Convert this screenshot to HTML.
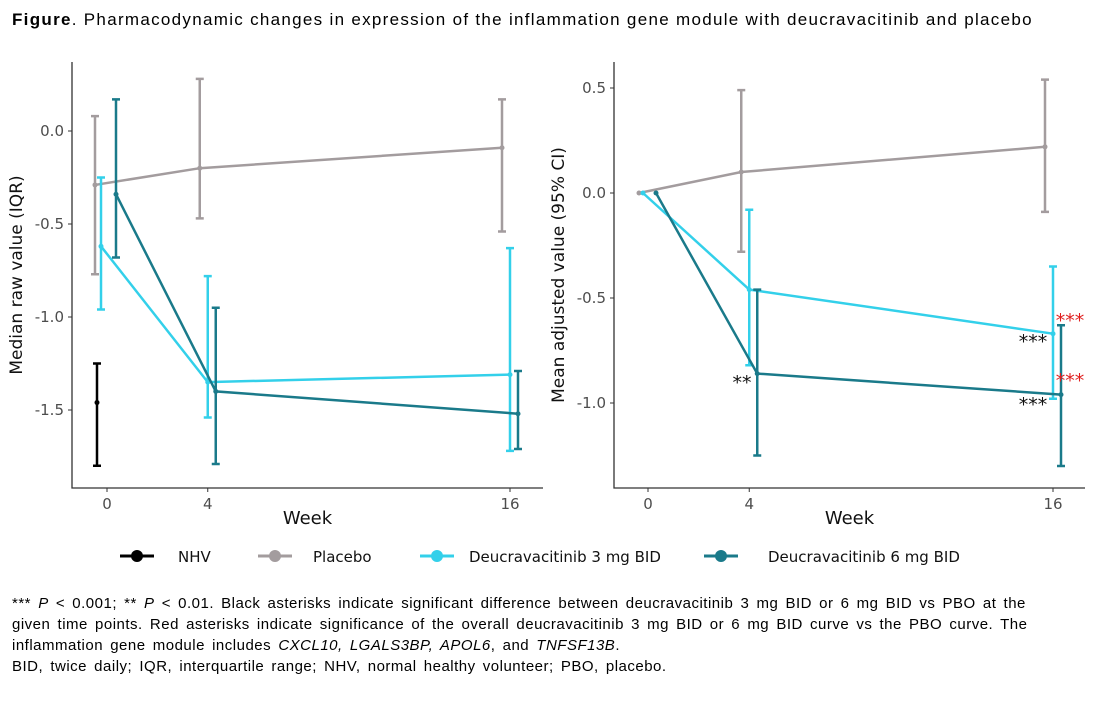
<!DOCTYPE html>
<html><head><meta charset="utf-8">
<style>
body{margin:0;background:#fff;width:1099px;height:707px;overflow:hidden;font-family:"Liberation Sans",sans-serif;}
#title{position:absolute;left:12px;top:10px;font-size:17px;color:#000;letter-spacing:1.3px;white-space:nowrap;}
#foot{position:absolute;left:12px;top:593px;font-size:15px;line-height:21px;color:#000;white-space:nowrap;letter-spacing:0.5px;word-spacing:2.5px;}
svg{position:absolute;left:0;top:0;}
</style></head><body>
<div id="title"><b>Figure</b>. Pharmacodynamic changes in expression of the inflammation gene module with deucravacitinib and placebo</div>
<svg id="chart" width="1099" height="590"></svg>
<div id="foot">*** <i>P</i> &lt; 0.001; ** <i>P</i> &lt; 0.01. Black asterisks indicate significant difference between deucravacitinib 3 mg BID or 6 mg BID vs PBO at the<br>given time points. Red asterisks indicate significance of the overall deucravacitinib 3 mg BID or 6 mg BID curve vs the PBO curve. The<br>inflammation gene module includes <i>CXCL10, LGALS3BP, APOL6</i>, and <i>TNFSF13B</i>.<br>BID, twice daily; IQR, interquartile range; NHV, normal healthy volunteer; PBO, placebo.</div>
<script>
const weeks=[0,4,16];
const seriesNames=["Placebo","Deucravacitinib 3 mg BID","Deucravacitinib 6 mg BID"];
const seriesColors=["#a39c9e","#33d0ea","#1a7a8a"];
// Left panel: median (IQR)
const leftMed=[[-0.29,-0.20,-0.09],[-0.62,-1.35,-1.31],[-0.34,-1.40,-1.52]];
const leftLo=[[-0.77,-0.47,-0.54],[-0.96,-1.54,-1.72],[-0.68,-1.79,-1.71]];
const leftHi=[[0.08,0.28,0.17],[-0.25,-0.78,-0.63],[0.17,-0.95,-1.29]];
const nhvMed=[-1.46];const nhvLo=[-1.80];const nhvHi=[-1.25];
const leftTicks=[0.0,-0.5,-1.0,-1.5];
// Right panel: mean (95% CI)
const rightMean=[[0,0.10,0.22],[0,-0.46,-0.67],[0,-0.86,-0.96]];
const rightLo=[[null,-0.28,-0.09],[null,-0.82,-0.98],[null,-1.25,-1.30]];
const rightHi=[[null,0.49,0.54],[null,-0.08,-0.35],[null,-0.46,-0.63]];
const rightTicks=[0.5,0.0,-0.5,-1.0];
const xTicks=[0,4,16];

const svg=document.getElementById('chart');
const NS='http://www.w3.org/2000/svg';
function el(t,a,p){const e=document.createElementNS(NS,t);for(const k in a)e.setAttribute(k,a[k]);(p||svg).appendChild(e);return e;}
function txt(s,a,p){const e=el('text',a,p);e.textContent=s;return e;}
const dodge=[-8,0,8];

function panel(cfg){
  const g=el('g',{});
  
  
  const xs=w=>cfg.x0+(w)*(cfg.x16-cfg.x0)/16;
  const ys=v=>cfg.y0+(v-cfg.v0)*(cfg.y1-cfg.y0)/(cfg.v1-cfg.v0);
  const ax=el('path',{d:`M${cfg.left},${cfg.top}V${cfg.bottom}H${cfg.right}`,stroke:'#333',fill:'none','stroke-width':1.3},g);
  
  cfg.yt.forEach(v=>{
    el('line',{x1:cfg.left-4,x2:cfg.left,y1:ys(v),y2:ys(v),stroke:'#333'},g);
    const t=txt(v.toFixed(1),{x:cfg.left-8,y:ys(v)+5,'text-anchor':'end','font-size':15,fill:'#4d4d4d','font-family':'DejaVu Sans, sans-serif'},g);
    
  });
  xTicks.forEach(w=>{
    el('line',{x1:xs(w),x2:xs(w),y1:cfg.bottom,y2:cfg.bottom+4,stroke:'#333'},g);
    const t=txt(String(w),{x:xs(w),y:cfg.bottom+21,'text-anchor':'middle','font-size':15,fill:'#4d4d4d','font-family':'DejaVu Sans, sans-serif'},g);
    
  });
  const xt=txt('Week',{x:(cfg.left+cfg.right)/2,y:cfg.bottom+36,'text-anchor':'middle','font-size':18,fill:'#111','font-family':'DejaVu Sans, sans-serif'},g);
  
  const cy=(cfg.top+cfg.bottom)/2;
  const yt=txt(cfg.ytitle,{x:cfg.left-50,y:cy,transform:`rotate(-90 ${cfg.left-50} ${cy})`,'text-anchor':'middle','font-size':17,fill:'#111','font-family':'DejaVu Sans, sans-serif'},g);
  
  function errbar(x,lo,hi,c){
    if(lo==null)return;
    const b=el('path',{d:`M${x},${ys(lo)}V${ys(hi)}M${x-4},${ys(lo)}H${x+4}M${x-4},${ys(hi)}H${x+4}`,stroke:c,'stroke-width':2.5,fill:'none'},g);
    
  }
  cfg.extra && cfg.extra(g,xs,ys,errbar);
  cfg.mid.forEach((s,i)=>{
    const pts=weeks.map((w,j)=>[xs(w)+dodge[i]+(j==0?cfg.d0[i]:0),ys(s[j])]);
    const l=el('polyline',{points:pts.map(p=>p.join(',')).join(' '),stroke:seriesColors[i],'stroke-width':2.5,fill:'none'},g);
    
    
    pts.forEach((p,j)=>{
      errbar(p[0],cfg.lo[i][j],cfg.hi[i][j],seriesColors[i]);
      const c=el('circle',{cx:p[0],cy:p[1],r:2.5,fill:seriesColors[i]},g);
      
    });
  });
  return {xs,ys,g};
}

panel({name:'left-panel',left:72,right:543,top:62,bottom:488,x0:107,x16:510,v0:0,y0:131,v1:-1.5,y1:410,
  yt:leftTicks,ytitle:'Median raw value (IQR)',mid:leftMed,lo:leftLo,hi:leftHi,d0:[-4,-6,1],
  extra:(g,xs,ys,errbar)=>{
    const x=xs(0)-10;
    errbar(x,nhvLo[0],nhvHi[0],'#000');
    const c=el('circle',{cx:x,cy:ys(nhvMed[0]),r:2.5,fill:'#000'},g);
    
  }});
const R=panel({name:'right-panel',left:614,right:1085,top:62,bottom:488,x0:648,x16:1053,v0:0,y0:193,v1:-1,y1:403,
  yt:rightTicks,ytitle:'Mean adjusted value (95% CI)',mid:rightMean,lo:rightLo,hi:rightHi,d0:[-1,-5,0]});
[['**',742,389,'#111'],['***',1033,348,'#111'],['***',1033,411,'#111'],['***',1070,327,'#e02020'],['***',1070,387,'#e02020']].forEach(a=>{
  const t=txt(a[0],{x:a[1],y:a[2],'text-anchor':'middle','font-size':19,fill:a[3],'font-family':'DejaVu Sans, sans-serif'});
  
});
// legend
const legItems=[["NHV","#000",120,178],["Placebo","#a39c9e",258,313],["Deucravacitinib 3 mg BID","#33d0ea",420,469],["Deucravacitinib 6 mg BID","#1a7a8a",704,768]];
legItems.forEach(it=>{
  const g=el('g',{});
  
  el('line',{x1:it[2],x2:it[2]+34,y1:556,y2:556,stroke:it[1],'stroke-width':3},g);
  el('circle',{cx:it[2]+17,cy:556,r:6,fill:it[1]},g);
  txt(it[0],{x:it[3],y:562,'font-size':15,fill:'#111','font-family':'DejaVu Sans, sans-serif'},g);
});
</script>
</body></html>
